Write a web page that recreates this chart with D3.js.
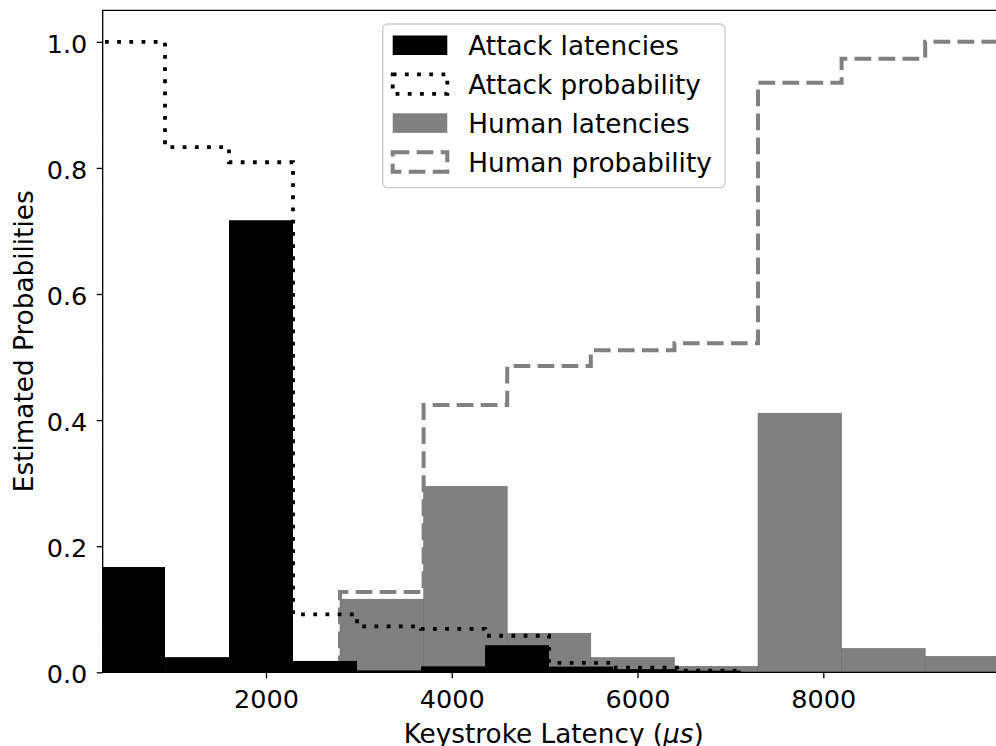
<!DOCTYPE html>
<html><head><meta charset="utf-8">
<script src="https://cdn.jsdelivr.net/npm/d3@7"></script>
<style>
body{margin:0;background:#fff}
svg{display:block}
text{font-family:"DejaVu Sans",sans-serif}
</style>
</head><body>
<svg id="c" width="996" height="746"></svg>
<script>
// ---- data ----
const attackBinEdges = [224, 913, 1602, 2291, 2980, 3669, 4358, 5047, 5736, 6425, 7114];
const attackLatencies = [0.167, 0.024, 0.717, 0.018, 0.003, 0.0095, 0.043, 0.009, 0.005, 0.0027];
const attackProbability = [1.0, 0.833, 0.809, 0.092, 0.073, 0.069, 0.058, 0.015, 0.0075, 0.0027];
const humanBinEdges = [2797, 3697, 4597, 5497, 6397, 7297, 8197, 9097, 9997];
const humanLatencies = [0.116, 0.295, 0.062, 0.0235, 0.0095, 0.411, 0.038, 0.0254];
const humanProbability = [0.1275, 0.424, 0.486, 0.511, 0.522, 0.935, 0.973, 1.0];
const xTicks = [2000, 4000, 6000, 8000];
const yTicks = [0, 0.2, 0.4, 0.6, 0.8, 1.0];
const legendLabels = ["Attack latencies", "Attack probability", "Human latencies", "Human probability"];
const xDomain = [242, 9997];
const yDomain = [0, 1.05];

// ---- layout ----
const L = 102.7, T = 10.3, B = 672.3, R = 1008.8;
const svg = d3.select("#c");
const x = d3.scaleLinear().domain(xDomain).range([L, R]);
const y = d3.scaleLinear().domain(yDomain).range([B, T]);

svg.append("defs").append("clipPath").attr("id", "plotclip")
  .append("rect").attr("x", L).attr("y", T).attr("width", R - L).attr("height", B - T);

const plot = svg.append("g").attr("clip-path", "url(#plotclip)");

function bars(edges, vals) {
  return vals.map((v, i) => ({x0: edges[i], x1: edges[i + 1], v}));
}
function stepPts(edges, vals) {
  const pts = [[edges[0], 0]];
  vals.forEach((v, i) => { pts.push([edges[i], v]); pts.push([edges[i + 1], v]); });
  pts.push([edges[edges.length - 1], 0]);
  return pts;
}
const line = d3.line().x(d => x(d[0])).y(d => y(d[1]));

// human bars
plot.append("g").selectAll("rect").data(bars(humanBinEdges, humanLatencies)).join("rect")
  .attr("x", d => x(d.x0)).attr("width", d => x(d.x1) - x(d.x0))
  .attr("y", d => y(d.v)).attr("height", d => y(0) - y(d.v))
  .attr("fill", "#808080").attr("stroke", "#666").attr("stroke-width", 0.5);

// human probability
plot.append("path").attr("d", line(stepPts(humanBinEdges, humanProbability)))
  .attr("fill", "none").attr("stroke", "#808080").attr("stroke-width", 4)
  .attr("stroke-dasharray", "16.7 7.3");

// attack bars
plot.append("g").selectAll("rect").data(bars(attackBinEdges, attackLatencies)).join("rect")
  .attr("x", d => x(d.x0)).attr("width", d => x(d.x1) - x(d.x0))
  .attr("y", d => y(d.v)).attr("height", d => y(0) - y(d.v))
  .attr("fill", "#000");

// attack probability
plot.append("path").attr("d", line(stepPts(attackBinEdges, attackProbability)))
  .attr("fill", "none").attr("stroke", "#000").attr("stroke-width", 3.8)
  .attr("stroke-dasharray", "3.8 8.4");

// ---- axes ----
const gx = svg.append("g").attr("transform", `translate(0,${B})`)
  .call(d3.axisBottom(x).tickValues(xTicks).tickFormat(d3.format("d")).tickSize(6).tickPadding(12).tickSizeOuter(0));
const gy = svg.append("g").attr("transform", `translate(${L},0)`)
  .call(d3.axisLeft(y).tickValues(yTicks).tickFormat(d3.format(".1f")).tickSize(6).tickPadding(9.4).tickSizeOuter(0));
[gx, gy].forEach(g => {
  g.select(".domain").remove();
  g.selectAll(".tick line").attr("stroke", "#000").attr("stroke-width", 1.3);
  g.selectAll(".tick text").attr("font-size", 25.5).attr("fill", "#000")
   .attr("font-family", '"DejaVu Sans",sans-serif');
});
gy.selectAll(".tick text").attr("dy", "0.4em");

// spines (left, top, bottom; right one lies beyond the picture)
svg.append("path")
  .attr("d", `M${R},${T}H${L}V${B}H${R}`)
  .attr("fill", "none").attr("stroke", "#000").attr("stroke-width", 1.3);

// axis labels
svg.append("text").attr("x", (L + R) / 2 - 2).attr("y", 743.3).attr("text-anchor", "middle")
  .attr("font-size", 26.3).attr("fill", "#000")
  .html('Keystroke Latency (<tspan font-style="italic">μs</tspan>)');
svg.append("text").attr("transform", `translate(33.3,${(T + B) / 2}) rotate(-90)`)
  .attr("text-anchor", "middle").attr("font-size", 26.3).attr("fill", "#000")
  .text("Estimated Probabilities");

// ---- legend ----
const lg = svg.append("g");
lg.append("rect").attr("x", 382.7).attr("y", 24).attr("width", 725 - 382.7).attr("height", 187.7 - 24)
  .attr("rx", 5).attr("fill", "#fff").attr("fill-opacity", 0.8)
  .attr("stroke", "#cccccc").attr("stroke-width", 1.3);
const handleStyles = [
  {fill: "#000", stroke: "none"},
  {fill: "none", stroke: "#000", sw: 3.8, dash: "3.8 8.4"},
  {fill: "#808080", stroke: "none"},
  {fill: "none", stroke: "#808080", sw: 4, dash: "16.7 7.3"}
];
legendLabels.forEach((lab, i) => {
  const base = 55 + i * 38.9;
  const s = handleStyles[i];
  const r = lg.append("rect").attr("x", 392.7).attr("y", base - 19.5).attr("width", 54.6).attr("height", 19.5)
    .attr("fill", s.fill).attr("stroke", s.stroke);
  if (s.sw) r.attr("stroke-width", s.sw).attr("stroke-dasharray", s.dash);
  lg.append("text").attr("x", 468.3).attr("y", base).attr("font-size", 26.3).attr("fill", "#000").text(lab);
});
</script>
</body></html>
